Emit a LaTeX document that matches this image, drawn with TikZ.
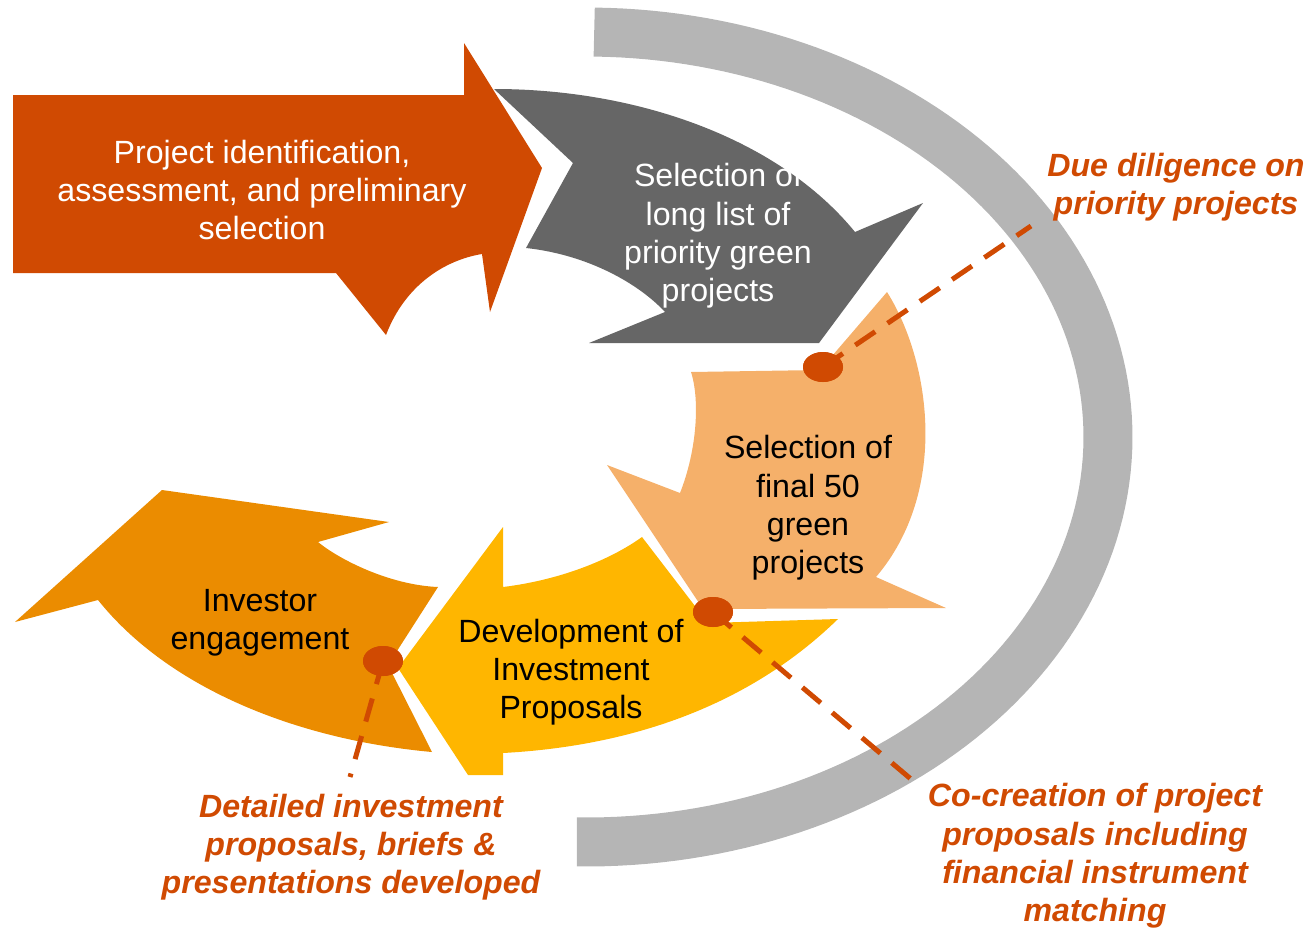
\documentclass[tikz,border=0pt]{standalone}
\usepackage{fontspec}
\setmainfont{Liberation Sans}
\usetikzlibrary{shapes.geometric}
\definecolor{cRed}{RGB}{208,74,2}
\definecolor{cDark}{RGB}{102,102,102}
\definecolor{cArc}{RGB}{181,181,181}
\definecolor{cLight}{RGB}{245,176,106}
\definecolor{cYellow}{RGB}{255,182,0}
\definecolor{cOrange}{RGB}{235,140,0}
\begin{document}
\begin{tikzpicture}[x=0.02cm,y=-0.02cm,
  txt/.style={align=center, font=\fontsize{18.3}{21.8}\selectfont, inner sep=0pt},
  lbl/.style={align=center, text=cRed, font=\fontsize{18.3}{21.8}\selectfont\bfseries\itshape, inner sep=0pt},
  dot/.style={ellipse, fill=cRed, minimum width=0.8cm, minimum height=0.6cm, inner sep=0pt},
  dashline/.style={draw=cRed, line width=0.1cm, dash pattern=on 0.48cm off 0.3cm},
  arcband/.style={draw=cArc, line width=0.98cm}]
\useasboundingbox (0,0) rectangle (1311,930);
% grey arc
\draw[arcband] plot[domain=-89.1:91, samples=120] ({586+522*cos(\x)}, {437+405*sin(\x)});
% step 1: red arrow
\fill[cRed] (13,95) -- (464,95) -- (464,43) -- (542,168) -- (490,312) -- (482,254)
  .. controls (445,260) and (405,285) .. (386,335) -- (336,273) -- (13,273) -- cycle;
% step 2: dark grey curved arrow
\fill[cDark] (494,89) .. controls (640,89) and (780,140) .. (855,232) -- (923,203) -- (819,343)
  -- (589,343) -- (665,312) .. controls (640,285) and (590,255) .. (526,248) -- (573,163) -- cycle;
% step 3: light orange
\fill[cLight] (887,292) .. controls (930,360) and (950,490) .. (876,577) -- (946,608) -- (703,609)
  -- (607,465) -- (680,493) .. controls (697,450) and (700,400) .. (691,372) -- (820,370) -- cycle;
% step 4: yellow
\fill[cYellow] (503,527) -- (503,587) .. controls (560,580) and (610,560) .. (642,537) -- (708,623)
  -- (838,619) .. controls (760,695) and (650,745) .. (503,753) -- (503,775) -- (468,775)
  -- (398,668) -- cycle;
% step 5: orange
\fill[cOrange] (162,490) -- (389,522) -- (318,542) .. controls (340,560) and (390,585) .. (438,587)
  -- (388,665) -- (432,752) .. controls (300,740) and (170,690) .. (98,600) -- (15,622) -- cycle;
% texts in shapes
\node[txt, text=white] (t1) at (262,190) {Project identification,\\assessment, and preliminary\\selection};
\node[txt, text=white] (t2) at (718,236) {Selection of\\long list of\\priority green\\projects};
\node[txt] (t3) at (808,508) {Selection of\\final 50\\green\\projects};
\node[txt] (t4) at (571,672) {Development of\\Investment\\Proposals};
\node[txt] (t5) at (260,623) {Investor\\engagement};
% labels
\node[lbl] (l1) at (1176,187) {Due diligence on\\priority projects};
\node[lbl] (l2) at (1095,856) {Co-creation of project\\proposals including\\financial instrument\\matching};
\node[lbl] (l3) at (351,847) {Detailed investment\\proposals, briefs \&\\presentations developed};
% dots and dashed connectors
\node[dot] (d1) at (823,367) {};
\node[dot] (d2) at (713,612) {};
\node[dot] (d3) at (383,661) {};
\coordinate (e1) at (1031,226);
\coordinate (e2) at (918,785);
\coordinate (e3) at (350,777);
\draw[dashline] (d1.center) -- (e1);
\draw[dashline] (d2.center) -- (e2);
\draw[dashline] (d3.center) -- (e3);
\node[dot] at (d1) {};
\node[dot] at (d2) {};
\node[dot] at (d3) {};
\end{tikzpicture}
\end{document}
